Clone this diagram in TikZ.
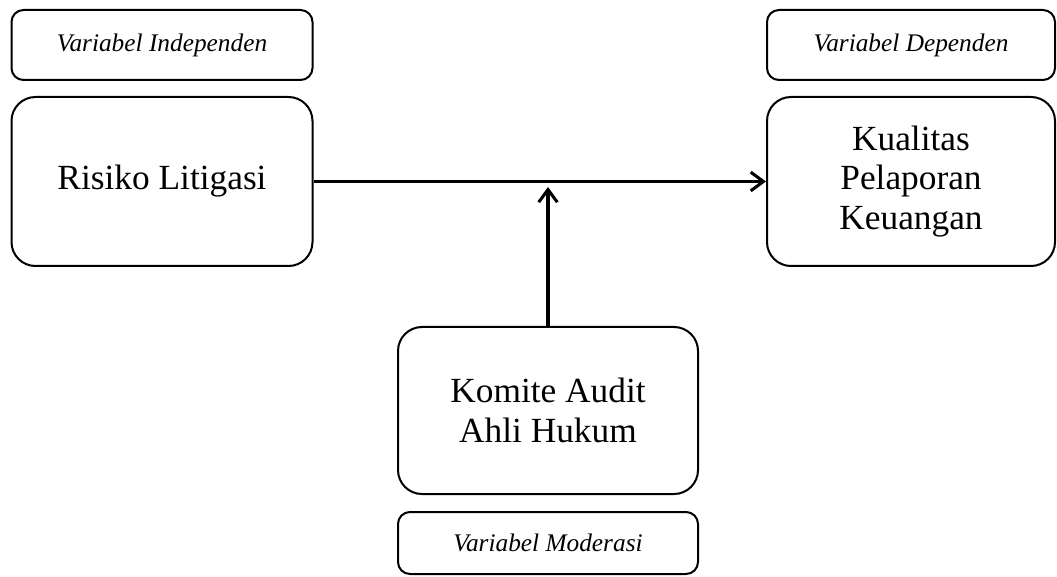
\documentclass[tikz,border=0pt]{standalone}
\usepackage{fontspec}
\setmainfont{Liberation Serif}
\usetikzlibrary{arrows.meta}

\tikzset{
    varbox/.style={draw=black, line width=1.5pt, rounded corners=18pt, align=center,
        inner sep=0pt, font=\fontsize{26.5}{29.5}\selectfont},
    labelbox/.style={draw=black, line width=1.5pt, rounded corners=9pt,
        inner sep=0pt, font=\fontsize{19}{22}\selectfont\itshape},
    pfeil/.style={line width=2.3pt, -{Straight Barb[length=9.5pt, width=14pt, line width=2.3pt]}}
}

\begin{document}
\begin{tikzpicture}[x=0.75pt, y=-0.75pt]

    \useasboundingbox (0,0) rectangle (1057,577);

    % labels above / below
    \node[labelbox, minimum width=225.75pt, minimum height=52.5pt] (lblIndep) at (162,45) {Variabel Independen};
    \node[labelbox, minimum width=216pt, minimum height=52.5pt] (lblDep) at (911,45) {Variabel Dependen};
    \node[labelbox, minimum width=225pt, minimum height=46.5pt] (lblMod) at (548,543) {Variabel Moderasi};

    % variables
    \node[varbox, minimum width=225.75pt, minimum height=126.75pt] (risiko) at (162,181.5) {Risiko Litigasi};
    \node[varbox, minimum width=216pt, minimum height=126.75pt] (kualitas) at (911,181.5) {Kualitas\\Pelaporan\\Keuangan};
    \node[varbox, minimum width=225pt, minimum height=125.25pt] (komite) at (548,410.5) {Komite Audit\\Ahli Hukum};

    \coordinate (mod) at (548,187);

    \draw[pfeil] (risiko.east) -- (kualitas.west);
    \draw[pfeil] (komite.north) -- (mod);

\end{tikzpicture}
\end{document}
